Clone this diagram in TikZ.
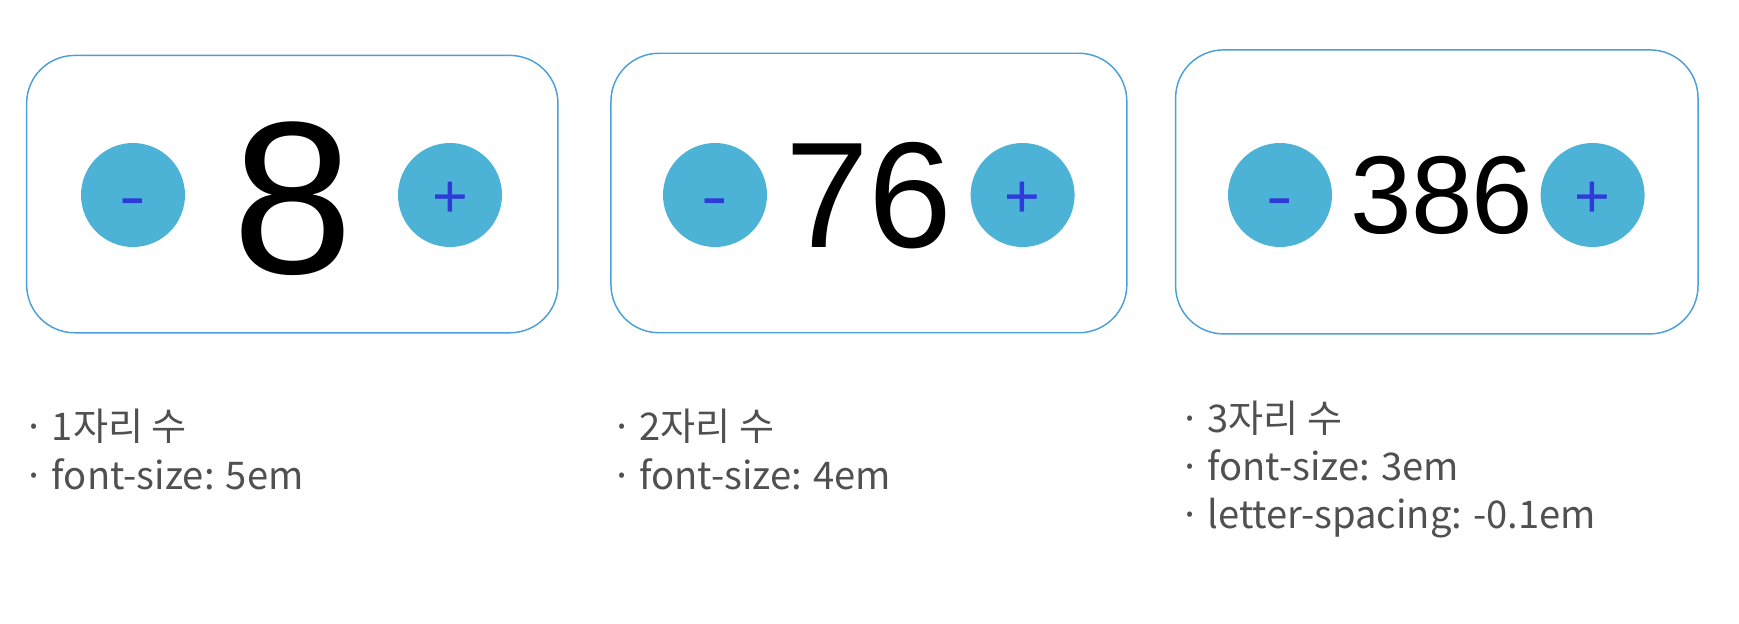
\documentclass[tikz,border=0pt]{standalone}
\usepackage{fontspec}
\usepackage{graphicx}
\setmainfont{Liberation Sans}
\newfontfamily\kofont{Noto Sans CJK KR}
\definecolor{cardline}{HTML}{4C9FD8}
\definecolor{btnfill}{HTML}{4DB3D6}
\definecolor{signblue}{HTML}{2F3BD9}
\definecolor{notegray}{HTML}{505050}
\newcommand{\minussign}{\vphantom{+}\smash{\raisebox{-3.3pt}{\scalebox{1.3}[1]{-}}}}
\newcommand{\plussign}{\vphantom{+}\smash{\raisebox{-3.3pt}{+}}}
\newcommand{\dotitem}{·\kern0.18em}

\begin{document}
\begin{tikzpicture}[x=0.75pt, y=-0.75pt, card/.style = {draw=cardline, line width=1.1pt, rounded corners=36pt, inner sep=0pt}, btn/.style = {circle, fill=btnfill, inner sep=0pt, minimum size=78pt, text=signblue, font=\fontsize{46}{46}\selectfont}, note/.style = {anchor=base west, inner sep=0pt, text=notegray, font=\kofont\fontsize{28.6}{30}\selectfont}]
        \useasboundingbox (0,0) rectangle (1739,624);
        \node[card, minimum width=398.5pt, minimum height=208pt] (c1) at (292.3,194.1) {};
        \node[card, minimum width=386.9pt, minimum height=209.6pt] (c2) at (868.9,193) {};
        \node[card, minimum width=391.8pt, minimum height=213pt] (c3) at (1436.8,191.9) {};
        \node[btn] (m1) at (133,195) {\minussign};
        \node[btn] (p1) at (450,195) {\plussign};
        \node[btn] (m2) at (715,195) {\minussign};
        \node[btn] (p2) at (1022.6,195) {\plussign};
        \node[btn] (m3) at (1280,195) {\minussign};
        \node[btn] (p3) at (1592.6,195) {\plussign};
        \node[inner sep=0pt, font=\fontsize{163}{163}\selectfont] (n1) at (293,198.5) {8};
        \node[inner sep=0pt, font=\fontsize{113}{113}\selectfont] (n2) at (869,196) {76};
        \node[inner sep=0pt, font=\fontsize{83}{83}\selectfont] (n3) at (1442,195) {3\kern-0.01em 8\kern-0.01em 6};
        \node[note] (t1) at (23.5,440) {\dotitem 1자리 수};
        \node[note] (s1) at (23.5,489) {\dotitem font-size: 5em};
        \node[note] (t2) at (611,440) {\dotitem 2자리 수};
        \node[note] (s2) at (611,489) {\dotitem font-size: 4em};
        \node[note] (t3) at (1179,432) {\dotitem 3자리 수};
        \node[note] (s3) at (1179,480) {\dotitem font-size: 3em};
        \node[note] (l3) at (1179,528) {\dotitem letter-spacing: -0.1em};
    \end{tikzpicture}
\end{document}
